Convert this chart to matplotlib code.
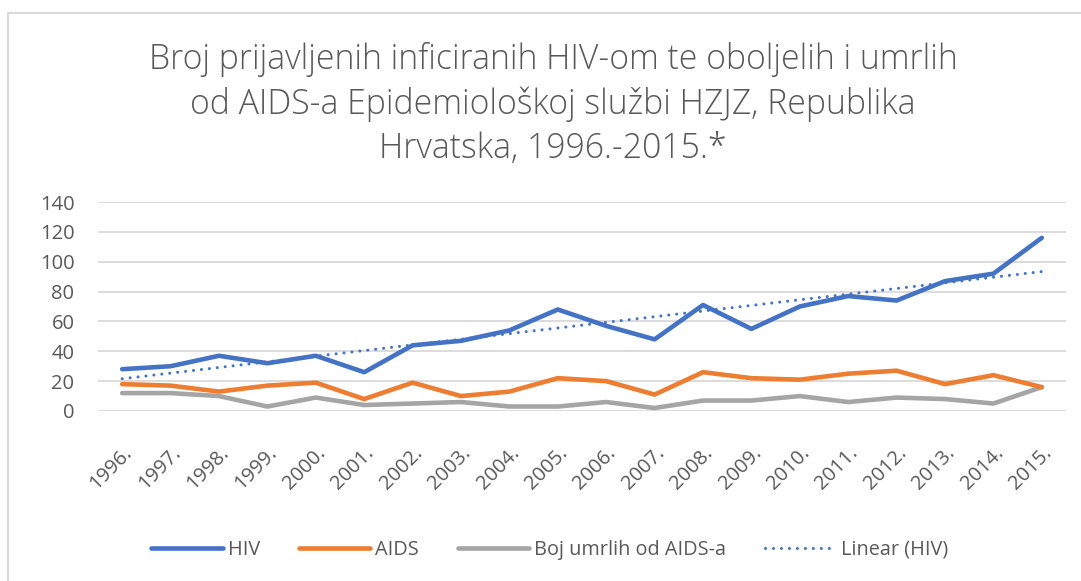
import numpy as np
import matplotlib
matplotlib.use("Agg")
import matplotlib.pyplot as plt
from matplotlib.patches import Rectangle

years = ["1996.", "1997.", "1998.", "1999.", "2000.", "2001.", "2002.", "2003.", "2004.", "2005.",
         "2006.", "2007.", "2008.", "2009.", "2010.", "2011.", "2012.", "2013.", "2014.", "2015."]
hiv = [28, 30, 37, 32, 37, 26, 44, 47, 54, 68, 57, 48, 71, 55, 70, 77, 74, 87, 92, 116]
aids = [18, 17, 13, 17, 19, 8, 19, 10, 13, 22, 20, 11, 26, 22, 21, 25, 27, 18, 24, 16]
deaths = [12, 12, 10, 3, 9, 4, 5, 6, 3, 3, 6, 2, 7, 7, 10, 6, 9, 8, 5, 16]
yticks = [0, 20, 40, 60, 80, 100, 120, 140]
title = ("Broj prijavljenih inficiranih HIV-om te oboljelih i umrlih\n"
         "od AIDS-a Epidemiološkoj službi HZJZ, Republika\n"
         "Hrvatska, 1996.-2015.*")

plt.rcParams['font.family'] = ['Open Sans', 'DejaVu Sans']
TXT = "#595959"

W, H = 1081, 581
fig = plt.figure(figsize=(W / 100, H / 100), dpi=100)
fig.patch.set_facecolor("white")

# outer chart border
fig.patches.append(Rectangle((8 / W, -0.05), 1.2, 1 - 13 / H + 0.05, transform=fig.transFigure,
                             fill=False, edgecolor="#d9d9d9", linewidth=1.5))

ax = fig.add_axes([98 / W, 170 / H, (1066 - 98) / W, 209 / H])
x = np.arange(len(years))

ax.plot(x, hiv, color="#4472C4", lw=3.3, solid_capstyle="round", solid_joinstyle="round", label="HIV", zorder=3)
ax.plot(x, aids, color="#ED7D31", lw=3.3, solid_capstyle="round", solid_joinstyle="round", label="AIDS", zorder=3)
ax.plot(x, deaths, color="#A5A5A5", lw=3.3, solid_capstyle="round", solid_joinstyle="round",
        label="Boj umrlih od AIDS-a", zorder=2)
coef = np.polyfit(x, hiv, 1)
ax.plot(x, np.polyval(coef, x), color="#4472C4", lw=2.2, linestyle=(0, (0.01, 2.6)),
        dash_capstyle="round", label="Linear (HIV)", zorder=4)

ax.set_xlim(-0.5, len(years) - 0.5)
ax.set_ylim(0, 140)
ax.set_yticks(yticks)
ax.set_yticklabels([str(v) for v in yticks])
ax.set_xticks(x)
ax.set_xticklabels(years, rotation=45, ha="right", va="top", rotation_mode="anchor")
ax.tick_params(axis="both", length=0, labelsize=14.5, labelcolor=TXT)
ax.tick_params(axis="y", pad=17)
ax.tick_params(axis="x", pad=23)
for s in ax.spines.values():
    s.set_visible(False)
ax.grid(axis="y", color="#d9d9d9", lw=1.3)
ax.set_axisbelow(True)

fig.text(553 / W, 1 - 104 / H, title, ha="center", va="center", fontsize=24.3,
         color=TXT, linespacing=1.37, fontweight="light")

fig.legend(loc="center", bbox_to_anchor=(550 / W, 1 - 550 / H), ncol=4, frameon=False,
           fontsize=14.3, labelcolor=TXT, handlelength=3.6, handletextpad=0.25, columnspacing=1.95)

fig.savefig("out.png", dpi=100, facecolor="white")
